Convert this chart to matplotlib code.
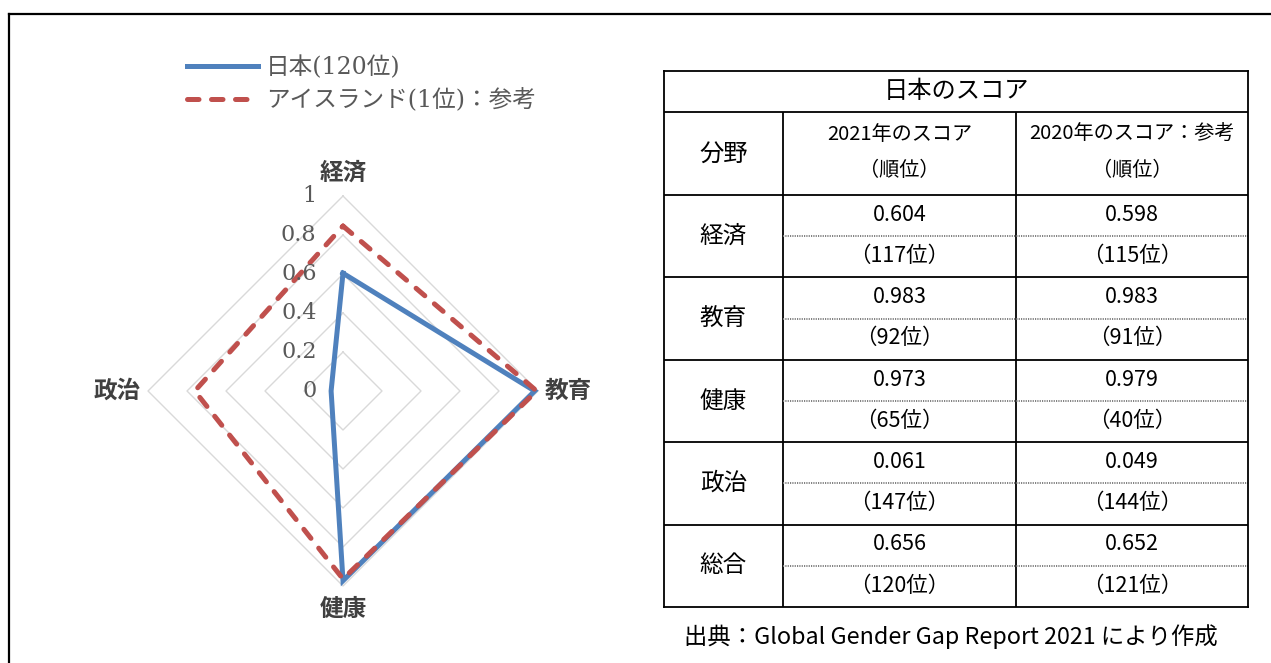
import numpy as np
import matplotlib
matplotlib.use('Agg')
import matplotlib.pyplot as plt
from matplotlib.font_manager import FontProperties

# data
categories = ['経済', '教育', '健康', '政治']
japan_scores = [0.604, 0.983, 0.973, 0.061]
iceland_scores = [0.846, 0.993, 0.964, 0.760]
r_ticks = [0, 0.2, 0.4, 0.6, 0.8, 1]
series_labels = ['日本(120位)', 'アイスランド(1位)：参考']

table_title = '日本のスコア'
header_field = '分野'
header_2021 = ['2021年のスコア', '（順位）']
header_2020 = ['2020年のスコア：参考', '（順位）']
table_fields = ['経済', '教育', '健康', '政治', '総合']
score_2021 = [0.604, 0.983, 0.973, 0.061, 0.656]
rank_2021 = [117, 92, 65, 147, 120]
score_2020 = [0.598, 0.983, 0.979, 0.049, 0.652]
rank_2020 = [115, 91, 40, 144, 121]
source_note = '出典：Global Gender Gap Report 2021 により作成'

JP = 'Noto Sans CJK JP'
MIX = ['DejaVu Serif', JP]
plt.rcParams['font.family'] = [JP, 'DejaVu Sans']

W, H = 1271, 663
fig = plt.figure(figsize=(W / 100, H / 100), dpi=100)
fig.patch.set_facecolor('white')

# outer frame (top + left only)
bg = fig.add_axes([9 / W, 0, 1 - 9 / W, (H - 14) / H], zorder=-1)
bg.set_xticks([])
bg.set_yticks([])
for s in ['right', 'bottom']:
    bg.spines[s].set_visible(False)
for s in ['top', 'left']:
    bg.spines[s].set_linewidth(1.6)

# ---- radar chart ----
cx, cy, rad = 343, 391, 195
ax = fig.add_axes([(cx - rad) / W, (H - cy - rad) / H, 2 * rad / W, 2 * rad / H],
                  projection='polar')
ax.set_theta_zero_location('N')
ax.set_theta_direction(-1)
ax.set_rlim(0, 1)
ax.grid(False)
ax.set_xticks([])
ax.set_yticks([])
ax.spines['polar'].set_visible(False)
ax.patch.set_alpha(0)

theta = np.linspace(0, 2 * np.pi, len(categories), endpoint=False)
theta_c = np.append(theta, theta[0])

for t in r_ticks[1:]:
    ax.plot(theta_c, [t] * len(theta_c), color='#D9D9D9', lw=1.0, zorder=1, clip_on=False)

l_is, = ax.plot(theta_c, iceland_scores + iceland_scores[:1], color='#C0504D', lw=3.6,
                dashes=(2.3, 2.5), dash_capstyle='round', zorder=3, clip_on=False)
l_jp, = ax.plot(theta_c, japan_scores + japan_scores[:1], color='#4F81BD', lw=3.6,
                solid_joinstyle='miter', zorder=2, clip_on=False)

for t in r_ticks:
    ax.annotate(f'{t:g}', xy=(0, t), xytext=(-19, 0), textcoords='offset points',
                ha='right', va='center', fontsize=16, family='DejaVu Serif', color='#595959')

for ang, lab in zip(theta, categories):
    dx, dy = np.sin(ang), np.cos(ang)
    ha = 'center' if abs(dx) < 0.5 else ('left' if dx > 0 else 'right')
    va = 'center' if abs(dy) < 0.5 else ('bottom' if dy > 0 else 'top')
    ax.annotate(lab, xy=(ang, 1), xytext=(dx * 5, dy * 8), textcoords='offset points',
                ha=ha, va=va, fontsize=17, fontweight='bold', color='#404040')

fig.legend(handles=[l_jp, l_is], labels=series_labels, loc='upper left',
           bbox_to_anchor=(187 / W, 1 - 56 / H), frameon=False,
           prop=FontProperties(family=MIX, size=17), labelcolor='#595959',
           handlelength=3.0, handletextpad=0.35, labelspacing=0.38,
           borderpad=0, borderaxespad=0)

# ---- table ----
col_w = [119, 233, 232]
row_h = [41, 83] + [82.4] * len(table_fields)
xe = np.concatenate([[0], np.cumsum(col_w)])
ye = np.concatenate([[0], np.cumsum(row_h)])
tx0, ty0 = 664, 71
ta = fig.add_axes([tx0 / W, (H - ty0 - ye[-1]) / H, xe[-1] / W, ye[-1] / H])
ta.set_xlim(0, xe[-1])
ta.set_ylim(ye[-1], 0)
ta.set_xticks([])
ta.set_yticks([])
for s in ta.spines.values():
    s.set_linewidth(1.3)

lw = 1.3
ta.hlines(ye[1:-1], 0, xe[-1], color='black', lw=lw)
ta.vlines(xe[1:-1], ye[1], ye[-1], color='black', lw=lw)
mids = (ye[2:-1] + ye[3:]) / 2
ta.hlines(mids, xe[1], xe[-1], color='#7F7F7F', lw=1.4, linestyles=(0, (0.6, 0.6)))

ccol = (xe[:-1] + xe[1:]) / 2
ta.text(xe[-1] / 2, row_h[0] / 2, table_title, ha='center', va='center', fontsize=17.5)
ta.text(ccol[0], ye[1] + row_h[1] / 2, header_field, ha='center', va='center', fontsize=17.5)
for c, lines in zip(ccol[1:], [header_2021, header_2020]):
    ta.text(c, ye[1] + row_h[1] * 0.27, lines[0], ha='center', va='center', fontsize=14.5)
    ta.text(c, ye[1] + row_h[1] * 0.71, lines[1], ha='center', va='center', fontsize=14.5)

for i, f in enumerate(table_fields):
    top, h = ye[i + 2], row_h[i + 2]
    ta.text(ccol[0], top + h / 2, f, ha='center', va='center', fontsize=17)
    ta.text(ccol[1], top + h * 0.24, f'{score_2021[i]:.3f}', ha='center', va='center', fontsize=15.5)
    ta.text(ccol[1], top + h * 0.74, f'（{rank_2021[i]}位）', ha='center', va='center', fontsize=15.5)
    ta.text(ccol[2], top + h * 0.24, f'{score_2020[i]:.3f}', ha='center', va='center', fontsize=15.5)
    ta.text(ccol[2], top + h * 0.74, f'（{rank_2020[i]}位）', ha='center', va='center', fontsize=15.5)

fig.text(684 / W, 1 - 637 / H, source_note, ha='left', va='center', fontsize=16.8)

fig.savefig('out.png', dpi=100, facecolor='white')
